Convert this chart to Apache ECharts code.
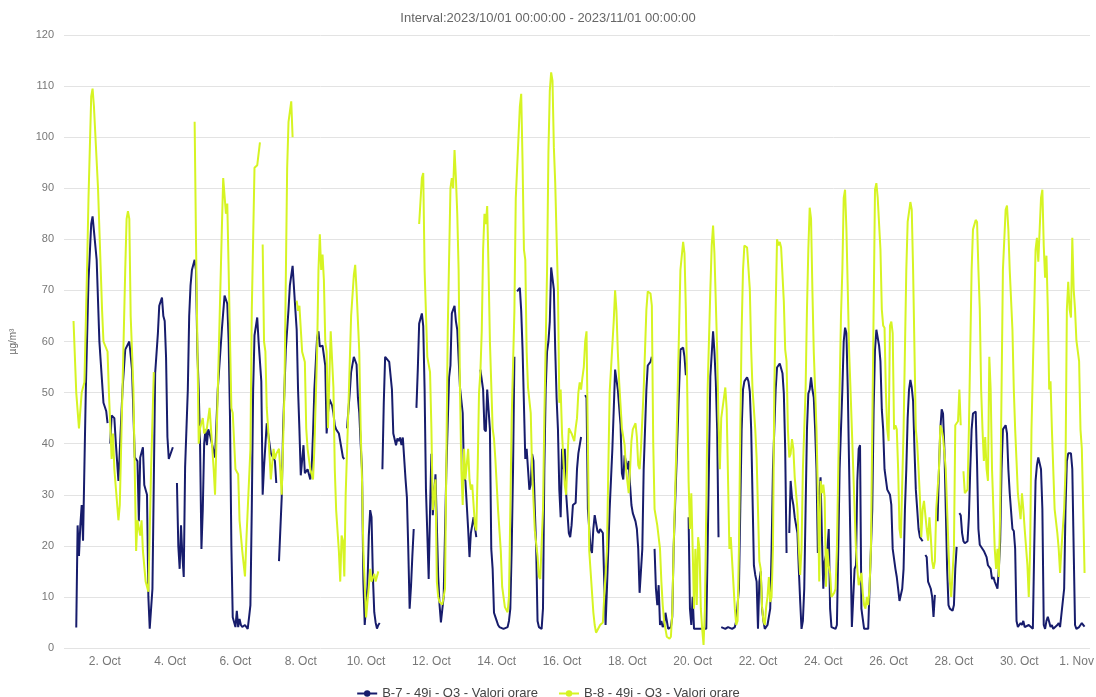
<!DOCTYPE html>
<html>
<head>
<meta charset="utf-8">
<script src="https://cdn.jsdelivr.net/npm/echarts@6/dist/echarts.min.js"></script>
<style>
html,body{margin:0;padding:0;background:#fff;}
#chart{width:1096px;height:697px;}
</style>
</head>
<body>
<div id="chart"></div>
<script>
// Title / legend texts
var titleText = 'Interval:2023/10/01 00:00:00 - 2023/11/01 00:00:00';
var seriesNames = ['B-7 - 49i - O3 - Valori orare', 'B-8 - 49i - O3 - Valori orare'];
var yAxisName = 'µg/m³';
// x tick labels (every second day from 2 Oct, then 1 Nov), positions in hours since 2023-10-01 00:00
var xTickLabels = ['2. Oct','4. Oct','6. Oct','8. Oct','10. Oct','12. Oct','14. Oct','16. Oct','18. Oct','20. Oct','22. Oct','24. Oct','26. Oct','28. Oct','30. Oct','1. Nov'];
var xTickHours = [24,72,120,168,216,264,312,360,408,456,504,552,600,648,696,744];

// Hourly readings: [hours since 2023-10-01 00:00, value]  (null = missing)
var b7Points = [[3,4],[4,24],[5,18],[6,24],[7,28],[8,21],[10,50],[12,72],[14,83],[15,84.5],[16,84.7],[18,76],[20,60],[22,52],[23,48],[25,46.4],[26,44],[27,null],[28,40],[29,45.5],[31,45],[32,40.5],[34,32.7],[37,50.6],[39,58.4],[42,60],[44,54.5],[45,46],[46,37.3],[48,36.6],[49,24.8],[50,37.3],[52,39.3],[53,31.9],[55,30],[56,10],[57,3.8],[58,4.1],[59,11.6],[61,53.8],[63,61.6],[64,67],[66,68.6],[67,65],[68,64],[69,56.9],[70,41.3],[71,37],[72,37.3],[74,39.3],[75,null],[77,32.3],[78,20],[79,15.5],[80,24],[81,18],[82,13.9],[83,35.4],[85,50.6],[86,65],[87,71],[88,74],[90,76],[91,74],[92,58],[93,50.6],[94,39.7],[95,19.4],[96,27.2],[97,40],[98,42.8],[99,39.7],[100,42.8],[101,42],[103,39.7],[105,37.3],[107,50.6],[110,62.3],[112,69],[114,67.4],[115,60],[116,45],[117,20],[118,6],[119,5.7],[120,4.1],[121,7.3],[122,4.1],[123,5.7],[124,4.5],[125,4.1],[127,4.5],[129,3.75],[130,6],[131,8.4],[132,27.2],[133,50.6],[134,61.2],[136,64.7],[137,60],[139,52.2],[140,30],[141,35.4],[143,44],[144,42],[146,38.1],[147,38.1],[149,36.6],[150,32.3],[151,null],[152,17],[154,29.5],[155,42.8],[157,58.4],[159,66.3],[160,71],[162,74.8],[164,66.3],[165,62.3],[166,50.6],[167,42.8],[168,33.8],[170,39.7],[171,34.2],[172,34.2],[173,35],[175,33],[176,35],[177,42],[178,50.6],[180,60.8],[181,62],[182,59],[184,59.2],[186,55.3],[187,42],[188,46],[189,48.7],[191,47.5],[192,46],[193,43.6],[194,42.8],[196,42],[198,38.9],[199,37.3],[200,37],[201,null],[202,43],[204,50],[205,54],[207,57],[209,55.5],[210,49],[211,46],[212,40],[213,35],[214,13],[215,4.5],[216,4.5],[217,12],[218,22],[219,27],[220,25.6],[221,14],[222,7],[223,5],[224,3.8],[225,4.5],[226,4.9],[227,null],[228,35],[229,48],[230,57],[231,57.3],[233,56],[235,50.6],[236,42],[238,39.7],[239,41],[240,40.5],[241,41.2],[242,39.7],[243,41.2],[245,33],[246,29.5],[247,19.4],[248,7.7],[249,12],[250,18],[251,23.3],[252,null],[253,47],[254,54.5],[255,63.5],[257,65.5],[258,63],[259,50.6],[260,31],[262,13.5],[263,27],[264,38],[265,26],[266,30],[267,34],[269,14],[270,8.4],[271,5],[272,4.9],[273,10],[275,35],[277,53],[278,55.3],[279,65.5],[281,67],[282,64],[283,62.3],[285,51],[287,46],[288,33.4],[289,32.7],[291,23.3],[292,17.8],[293,22.5],[295,25.6],[297,21.7],[298,null],[300,54.5],[302,50.6],[303,42.8],[304,42.4],[305,50.6],[306,50.6],[307,42.8],[308,19.4],[309,15.5],[310,6.9],[311,6.1],[312,5.3],[313,4.5],[314,4.1],[317,3.75],[320,4.1],[321,5.3],[322,7.7],[323,19.4],[324,35],[325,57],[326,null],[327,69.8],[329,70.5],[330,66],[331,58.4],[333,37],[334,39],[336,31],[337,32],[338,38],[339,36.6],[340,27.2],[341,19.4],[342,5.3],[343,4.1],[345,3.75],[346,7.7],[347,35],[348,50.6],[349,58],[350,60],[351,63.9],[352,74.5],[354,70.2],[355,58.4],[356,49],[357,42.8],[358,31],[359,25.6],[360,39],[361,35],[362,39],[363,30.3],[365,22.5],[366,21.7],[367,24],[368,28],[370,28.4],[371,35],[372,38.1],[373,39.7],[374,41.3],[375,null],[377,49.5],[378,49],[379,27.2],[381,19.4],[382,18.6],[383,23.3],[384,26],[386,22.9],[387,22.5],[388,23.3],[390,22.5],[391,13],[392,4.5],[393,11.6],[394,19.4],[395,27.2],[397,39],[398,46.7],[399,54.5],[400,54.7],[401,50.6],[403,43.6],[404,34.2],[405,33],[406,37.7],[408,35],[409,36.6],[410,31.9],[411,28],[412,26.4],[414,24.8],[415,23.3],[416,19.4],[417,10.8],[419,19.4],[420,35],[421,42.8],[422,50.6],[423,55.3],[425,56],[426,57],[427,null],[428,19.4],[429,11.6],[430,8.4],[431,12.3],[432,4.5],[433,5.3],[434,4.1],[435,4.5],[436,6.9],[438,3.75],[440,4.1],[441,6.1],[442,19.4],[444,35],[445,42.8],[446,50.6],[447,58.4],[449,58.8],[450,57],[451,53.4],[452,null],[453,25.6],[454,7.7],[455,4.5],[456,10],[457,3.75],[459,3.75],[463,3.75],[466,3.75],[467,19.4],[469,53.1],[471,62],[472,58],[473,52.2],[474,42.8],[475,21.7],[476,null],[477,4.1],[480,3.75],[482,4.1],[485,3.75],[487,4.1],[488,5.3],[490,11.6],[491,27.2],[492,42.8],[493,50.6],[494,52.2],[496,53],[497,52.2],[498,50.2],[499,42.8],[501,16.2],[502,14.3],[503,13],[504,3.75],[505,13],[506,15],[507,7.7],[508,5.3],[509,3.75],[511,4.5],[513,7.7],[514,19.4],[515,35],[517,50.6],[518,54.9],[519,55.3],[520,55.7],[522,53.8],[523,49.8],[524,38.9],[525,18.6],[526,null],[527,22.5],[528,32.7],[529,29.5],[530,28],[531,25.6],[533,22.5],[534,15.5],[535,9.2],[536,3.75],[537,5.3],[538,11.6],[539,27.2],[540,42.8],[541,49.8],[542,50.6],[543,53],[544,50.6],[545,49],[546,42.8],[547,35],[548,18.6],[549,30.3],[550,33.4],[551,21.7],[552,11.6],[553,17],[555,19.4],[556,23.3],[557,7.7],[558,4.1],[561,3.75],[562,4.5],[563,19.4],[564,35],[566,50.6],[567,60],[568,62.7],[569,61.6],[570,50.6],[571,35],[572,19.4],[573,4.1],[574,3.75],[575,15.5],[576,16.2],[577,32.7],[578,39],[579,39.7],[580,7.7],[582,3.75],[585,3.75],[586,11.6],[588,27.2],[589,46.7],[590,58.4],[591,62.3],[593,59.2],[594,56.1],[595,46.7],[596,42.8],[597,35],[599,31],[601,30],[602,28],[603,19.4],[605,15.5],[606,13.9],[607,11.6],[608,9.2],[610,11.6],[611,15.5],[612,27.2],[613,35],[614,45],[615,50.6],[616,52.5],[617,51],[618,48.3],[619,38.9],[620,31],[621,27.2],[622,23.3],[623,21.7],[625,20.9],[626,null],[627,18.2],[628,17.8],[629,13],[631,11.6],[632,10],[633,6.1],[634,10.4],[635,null],[636,24.8],[637,35],[638,42.8],[639,46.7],[640,45.9],[641,38.9],[642,27.2],[643,15.5],[644,8.4],[645,7.7],[647,7.3],[648,8.4],[649,15.5],[650,19.8],[651,null],[652,26.4],[653,26],[654,22.5],[655,20.9],[656,20.5],[658,20.9],[659,25.6],[660,35],[661,42.8],[662,45.9],[664,46.3],[665,36],[666,23.3],[667,20.2],[670,19],[672,17.8],[673,16.2],[675,15.5],[676,13.5],[677,13.9],[678,13],[680,11.6],[681,15.5],[682,20.9],[683,35],[684,42.8],[686,43.6],[687,42],[688,35],[689,30.3],[691,23.3],[692,22.9],[693,19.4],[694,5.3],[695,4.1],[697,4.9],[698,4.5],[699,5.3],[700,4.1],[703,4.5],[706,3.75],[707,19.4],[708,32.7],[709,35.8],[710,37.3],[711,37],[712,35],[713,27.2],[714,4.5],[715,3.75],[716,5.3],[717,6.1],[719,4.1],[720,4.5],[721,3.75],[724,4.5],[725,4.9],[726,4.1],[727,3.75],[729,11.6],[730,27.2],[731,36.6],[732,38.1],[734,38.1],[735,35],[736,19.4],[737,4.5],[738,3.75],[740,4.1],[741,4.5],[742,4.9],[743,4.5],[744,4.2]];

var b8Points = [[1,64],[3,50],[5,43],[7,50],[9,52],[11,75],[12,88],[14,108],[15,109.5],[16,106],[19,90],[22,66],[23,60],[26,58],[27,50],[29,37],[30,42],[31,35],[34,25],[35,28],[39,74],[40,84],[41,85.5],[42,84],[43,65],[44,58],[45,50.6],[47,19],[48,25],[50,22],[51,25],[52,19],[54,13],[56,11],[58,35],[60,54],[61,null],[89,null],[90,103],[91,80],[92,60],[93,40],[94,43],[96,45],[97,42],[99,43],[101,47],[102,43],[104,35],[105,30],[107,50],[110,82],[111,92],[113,85],[114,87],[115,74],[117,47],[118,46],[120,35],[122,34],[123,25],[125,19],[127,14],[128,21],[131,39],[132,66],[134,94],[136,94.5],[138,99],[139,null],[140,79],[141,60],[142,58],[143,47],[144,43],[146,33],[148,39],[149,37],[150,38],[152,39],[154,30],[156,50],[158,94],[159,103],[161,107],[162,100],[163,null],[165,68],[166,66],[167,67],[169,58],[170,58],[171,56],[172,43],[173,39],[175,35],[177,33],[178,39],[180,58],[181,74],[182,81],[183,74],[184,77],[185,72],[186,60],[187,58],[188,43],[190,62],[192,51],[193,35],[194,27],[196,19],[197,13],[198,22],[199,21],[200,14],[201,30],[203,47],[205,65],[207,73],[208,75],[209,70],[211,58],[212,43],[213,33],[214,19],[216,6],[217,6],[218,12],[219,15.5],[220,13],[222,14.5],[223,13],[225,15],[226,null],[254,null],[255,83],[257,92],[258,93],[259,74],[261,57],[263,54],[264,43],[265,27],[267,33],[268,13],[269,10],[270,9],[272,8.5],[274,11.6],[275,37],[276,62],[278,90],[279,92],[280,90],[281,97.5],[282,92],[283,85],[284,74],[285,51],[286,35],[287,28],[288,39],[289,33],[291,39],[292,33],[293,31],[294,32],[296,24],[297,23],[298,35],[299,50],[300,54],[301,62],[302,78],[303,85],[304,83],[305,86.5],[306,74],[307,60],[309,43],[310,41],[311,37],[313,27],[315,19],[316,12],[318,8],[320,7],[321,10],[322,27],[323,45],[325,66],[326,88],[328,100],[329,106],[330,108.5],[331,95],[332,78],[333,76],[334,58],[335,51],[337,46],[338,35],[340,23],[342,18],[343,14],[344,13.5],[346,27],[347,45],[349,74],[350,97],[351,109],[352,112.7],[353,111],[354,98],[355,91],[357,70],[358,48],[359,50.6],[360,42],[362,32],[363,30],[364,37],[365,43],[367,42],[369,40.5],[370,43],[371,45],[372,50],[373,52],[374,50.6],[375,53],[376,55],[377,60],[378,62],[379,40],[380,19],[382,11],[383,7],[384,4.5],[385,3],[388,4.5],[390,5],[391,10],[393,19],[394,35],[395,50],[398,64],[399,70],[400,66],[401,58],[402,52],[404,43],[406,39.7],[407,35],[409,30.3],[410,35],[411,40.5],[412,42.8],[414,44],[415,41.3],[416,35.8],[417,35],[418,39],[420,50.6],[421,58.4],[422,66.3],[423,69.8],[425,69.4],[426,67],[427,40.5],[428,27.2],[430,24],[431,21.7],[432,19.4],[433,13],[434,8.4],[435,5.3],[436,3.75],[437,2.2],[439,1.8],[440,2.2],[441,6.9],[442,19.4],[444,39],[445,50.6],[446,62.3],[447,74],[449,79.5],[450,77.2],[451,66.3],[452,50.6],[453,32.7],[454,23.3],[455,30.3],[456,19.4],[457,7.7],[458,19.4],[459,8.4],[460,21.7],[461,19.4],[462,7.7],[463,3.75],[464,0.6],[465,7.7],[466,27.2],[467,50.6],[469,70.2],[470,78.8],[471,82.7],[472,77.2],[474,58.4],[475,44.4],[476,35],[477,45],[480,51],[481,46.7],[483,19.4],[484,21.7],[485,21.7],[487,7.7],[488,4.5],[489,5.3],[490,19.4],[491,42.8],[492,62.3],[493,74],[494,78.8],[496,78.4],[498,70.2],[499,58.4],[500,50.6],[502,42.8],[503,37.3],[505,17],[506,15.5],[507,8],[508,5.3],[509,4.5],[510,8],[511,10],[512,13.9],[513,9],[514,10],[515,19.4],[516,50.6],[517,66.3],[518,80],[519,78.8],[520,79.5],[521,78.4],[523,67.8],[524,58.4],[525,56.1],[526,42.8],[527,37.3],[528,38],[529,40.9],[530,39],[531,33.4],[533,27.2],[534,19.4],[535,14.3],[536,19.4],[537,35],[539,50.6],[540,66.3],[541,78],[542,86.2],[543,84],[544,70],[545,58],[546,50.6],[547,42.8],[548,30.3],[549,13],[550,32.7],[551,30.3],[552,32],[553,29.5],[554,12],[555,19.4],[556,16],[557,14.7],[558,10],[560,10.8],[561,11.6],[562,19.4],[563,35],[564,50.6],[565,65],[566,74],[567,88.1],[568,89.7],[569,81.9],[570,70],[571,58],[572,50.6],[573,42.8],[574,35],[575,27.2],[576,19.4],[577,15.5],[578,12.3],[580,14.7],[581,10.8],[582,8.4],[583,7.7],[584,10],[585,8.4],[586,12],[587,19.4],[588,42.8],[589,66.3],[590,89.7],[591,91],[592,88.1],[593,83],[594,78],[595,66.3],[596,63.1],[597,62.7],[598,50],[599,42.8],[600,40.5],[601,63.1],[602,63.9],[603,61.6],[604,42.8],[605,43.6],[606,42.8],[607,35],[608,23.3],[609,21.5],[610,21.7],[611,42.8],[612,58.4],[613,74],[614,83.4],[616,87.3],[617,85.8],[618,74],[619,58.4],[620,42.8],[621,40],[622,35],[623,29.5],[624,21.7],[625,27.2],[626,28.8],[628,23.3],[629,21],[630,25.6],[631,21.7],[632,17],[633,15.5],[634,17],[635,27.2],[637,35],[638,43.6],[639,42.8],[640,41.3],[642,35],[643,27.2],[644,19.4],[645,13],[646,10],[648,19.4],[649,43.6],[650,44],[651,44.4],[652,50.6],[653,43.6],[654,null],[655,34.6],[656,30.3],[658,31],[659,42.8],[660,58.4],[661,74],[662,81.9],[664,83.8],[665,83.4],[666,74],[667,66.3],[668,50.6],[669,42.8],[670,36.6],[671,41.3],[672,35],[673,32.7],[674,57],[675,50.6],[676,35],[677,27.2],[678,19.4],[679,15.5],[680,19.4],[681,13.9],[682,27.2],[683,50.6],[684,74],[686,85.8],[687,86.6],[688,81.9],[689,74],[691,62.3],[692,50.6],[693,42.8],[694,36.6],[695,30.3],[697,25.2],[698,30.3],[699,27.2],[700,23.3],[702,16.2],[703,10],[704,19.4],[705,42.8],[707,66.3],[708,78],[709,80.3],[710,75.6],[711,81.9],[712,88.1],[713,89.7],[714,78.8],[715,72.5],[716,76.8],[717,66.3],[718,50.6],[719,52.2],[720,42.8],[721,35],[722,27.2],[724,22.5],[725,19.4],[726,14.7],[727,19.4],[729,27.2],[730,35],[731,66.3],[732,71.7],[733,66.3],[734,64.7],[735,80.3],[736,70.2],[737,66.3],[738,60.2],[740,56.1],[741,42.8],[742,39],[743,27.2],[744,14.7]];

function toSeries(points) {
  return points.map(function (p) { return [p[0], p[1] === null ? '-' : p[1]]; });
}
var labelByHour = {};
xTickHours.forEach(function (h, i) { labelByHour[h] = xTickLabels[i]; });
var lastTickHour = xTickHours[xTickHours.length - 1];

var FONT = 'Liberation Sans, Arial, sans-serif';
var chart = echarts.init(document.getElementById('chart'), null, { renderer: 'canvas' });
chart.setOption({
  animation: false,
  backgroundColor: '#ffffff',
  title: {
    text: titleText,
    left: 'center',
    top: 7,
    textStyle: { fontSize: 13, fontWeight: 'normal', color: '#666666', fontFamily: FONT }
  },
  legend: {
    top: 682,
    left: 'center',
    itemWidth: 20,
    itemHeight: 8,
    itemGap: 20,
    textStyle: { fontSize: 13, color: '#444444', fontFamily: FONT },
    data: seriesNames
  },
  grid: { left: 64, right: 6, top: 35, bottom: 49, containLabel: false, outerBoundsMode: 'none' },
  xAxis: {
    type: 'value',
    min: -6,
    max: 748,
    axisLine: { show: false },
    axisTick: { show: false },
    splitLine: { show: false },
    axisLabel: {
      customValues: xTickHours,
      hideOverlap: false,
      showMinLabel: true,
      showMaxLabel: true,
      color: '#777777',
      fontSize: 12,
      margin: 8,
      fontFamily: FONT,
      formatter: function (v) {
        if (labelByHour[v] === undefined) return '';
        return v === lastTickHour ? '{last|' + labelByHour[v] + '}' : labelByHour[v];
      },
      rich: {
        last: { color: '#777777', fontSize: 12, fontFamily: FONT, padding: [0, 16, 0, 0] }
      }
    }
  },
  yAxis: {
    type: 'value',
    min: 0,
    max: 120,
    interval: 10,
    name: yAxisName,
    nameLocation: 'middle',
    nameRotate: 90,
    nameGap: 46,
    nameTextStyle: { fontSize: 10, color: '#666666', fontFamily: FONT },
    axisLine: { show: false },
    axisTick: { show: false },
    axisLabel: { color: '#777777', fontSize: 11, margin: 10, fontFamily: FONT },
    splitLine: { lineStyle: { color: '#e3e3e3', width: 1 } }
  },
  series: [
    {
      name: seriesNames[0],
      type: 'line',
      data: toSeries(b7Points),
      showSymbol: false,
      symbol: 'circle',
      symbolSize: 7,
      connectNulls: false,
      color: '#171c6c',
      lineStyle: { width: 2, color: '#171c6c' },
      emphasis: { disabled: true }
    },
    {
      name: seriesNames[1],
      type: 'line',
      data: toSeries(b8Points),
      showSymbol: false,
      symbol: 'circle',
      symbolSize: 7,
      connectNulls: false,
      color: '#d6f423',
      lineStyle: { width: 2, color: '#d6f423' },
      emphasis: { disabled: true }
    }
  ]
});
</script>
</body>
</html>
